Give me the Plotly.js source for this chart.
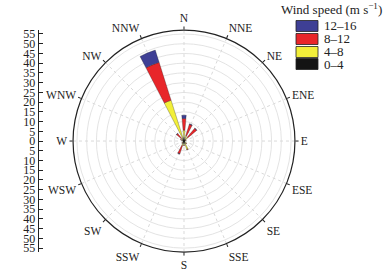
<!DOCTYPE html>
<html>
<head>
<meta charset="utf-8">
<script src="https://cdn.plot.ly/plotly-3.0.1.min.js"></script>
<style>html,body{margin:0;padding:0;background:#fff;}#chart{width:387px;height:276px;}</style>
</head>
<body>
<div id="chart"></div>
<script>
// Wind directions (16 sectors)
const directions = ['N','NNE','NE','ENE','E','ESE','SE','SSE','S','SSW','SW','WSW','W','WNW','NW','NNW'];
// Frequency (%) per wind-speed class, stacked outward
const speed0to4   = [2.0, 1.0, 1.0, 0.5, 0.3, 0.3, 0.8, 1.5, 1.2, 1.5, 0.8, 0.4, 0.3, 0.8, 1.0, 1.5];
const speed4to8   = [3.6, 2.0, 1.5, 0.3, 0.2, 0.2, 0.8, 3.0, 1.0, 1.0, 0.4, 0.2, 0.2, 0.4, 1.0, 20.5];
const speed8to12  = [6.0, 6.0, 6.0, 0.4, 0.0, 0.0, 0.3, 0.3, 0.3, 4.4, 0.3, 0.0, 0.0, 0.8, 3.0, 20.4];
const speed12to16 = [1.7, 0.3, 0.2, 0.0, 0.0, 0.0, 0.0, 0.0, 0.0, 0.2, 0.0, 0.0, 0.0, 0.0, 0.2, 6.6];
const classNames  = ['0–4', '4–8', '8–12', '12–16'];
const legendTitle = 'Wind speed (m s<sup>−1</sup>)';
// Left scale tick values / labels
const scaleTickVals = [-55,-50,-45,-40,-35,-30,-25,-20,-15,-10,-5,0,5,10,15,20,25,30,35,40,45,50,55];
const scaleTickText = ['55','50','45','40','35','30','25','20','15','10','5','0','5','10','15','20','25','30','35','40','45','50','55'];

const series = [speed0to4, speed4to8, speed8to12, speed12to16];
const colors = ['#141414', '#f2ef3a', '#e8262a', '#3e3f95'];
const serif = "'Liberation Serif', 'Times New Roman', serif";
const W = 387, H = 276;

const traces = series.map((vals, i) => ({
  type: 'barpolar',
  r: vals,
  theta: directions,
  name: classNames[i],
  width: 0.44,
  marker: {color: colors[i], line: {color: '#222', width: 0.3}},
  hoverinfo: 'skip',
  showlegend: false
}));
traces.push({type: 'scatter', x: [], y: [], xaxis: 'x', yaxis: 'y', showlegend: false, hoverinfo: 'skip'});

// Hand-placed legend (swatches + labels), topmost = fastest class
const shapes = [], annotations = [];
const rowY = [64, 52, 39, 26]; // pixel centres for classes 0–4 ... 12–16
classNames.forEach((nm, i) => {
  const cy = rowY[i];
  shapes.push({type: 'rect', xref: 'paper', yref: 'paper',
    x0: 296 / W, x1: 318 / W, y0: 1 - (cy + 5.5) / H, y1: 1 - (cy - 5.5) / H,
    fillcolor: colors[i], line: {color: '#222', width: 0.8}});
  annotations.push({xref: 'paper', yref: 'paper', x: 322 / W, y: 1 - cy / H,
    xanchor: 'left', yanchor: 'middle', text: nm, showarrow: false,
    font: {family: serif, size: 13, color: '#222'}});
});
annotations.push({xref: 'paper', yref: 'paper', x: 331 / W, y: 1 - 9 / H,
  xanchor: 'center', yanchor: 'middle', text: legendTitle, showarrow: false,
  font: {family: serif, size: 13, color: '#222'}});

const layout = {
  width: W, height: H,
  margin: {l: 0, r: 0, t: 0, b: 0},
  paper_bgcolor: '#fff',
  font: {family: serif, color: '#222'},
  showlegend: false,
  shapes: shapes,
  annotations: annotations,
  polar: {
    domain: {x: [0.1886, 0.7623], y: [0.087, 0.891]},
    bgcolor: '#fff',
    barmode: 'stack',
    radialaxis: {
      range: [0, 57], dtick: 5, showticklabels: false, ticks: '',
      showline: false, gridcolor: '#dcdcdc', gridwidth: 0.8
    },
    angularaxis: {
      type: 'category', categoryarray: directions,
      direction: 'clockwise', rotation: 90,
      ticks: 'outside', ticklen: 3, tickcolor: '#222',
      showline: true, linecolor: '#222', linewidth: 1.2,
      gridcolor: '#cfcfcf', griddash: 'dot', gridwidth: 0.8,
      tickfont: {family: serif, size: 11.5, color: '#222'}
    }
  },
  xaxis: {domain: [0.1, 0.2], visible: false, fixedrange: true},
  yaxis: {
    domain: [0.087, 0.891], range: [-57, 57], anchor: 'x',
    tickvals: scaleTickVals, ticktext: scaleTickText,
    ticks: 'inside', ticklen: 4, tickcolor: '#222',
    showline: true, linecolor: '#222', linewidth: 1,
    showgrid: false, zeroline: false, fixedrange: true,
    tickfont: {family: serif, size: 12, color: '#222'}
  }
};

Plotly.newPlot('chart', traces, layout, {staticPlot: true, displayModeBar: false});
</script>
</body>
</html>
